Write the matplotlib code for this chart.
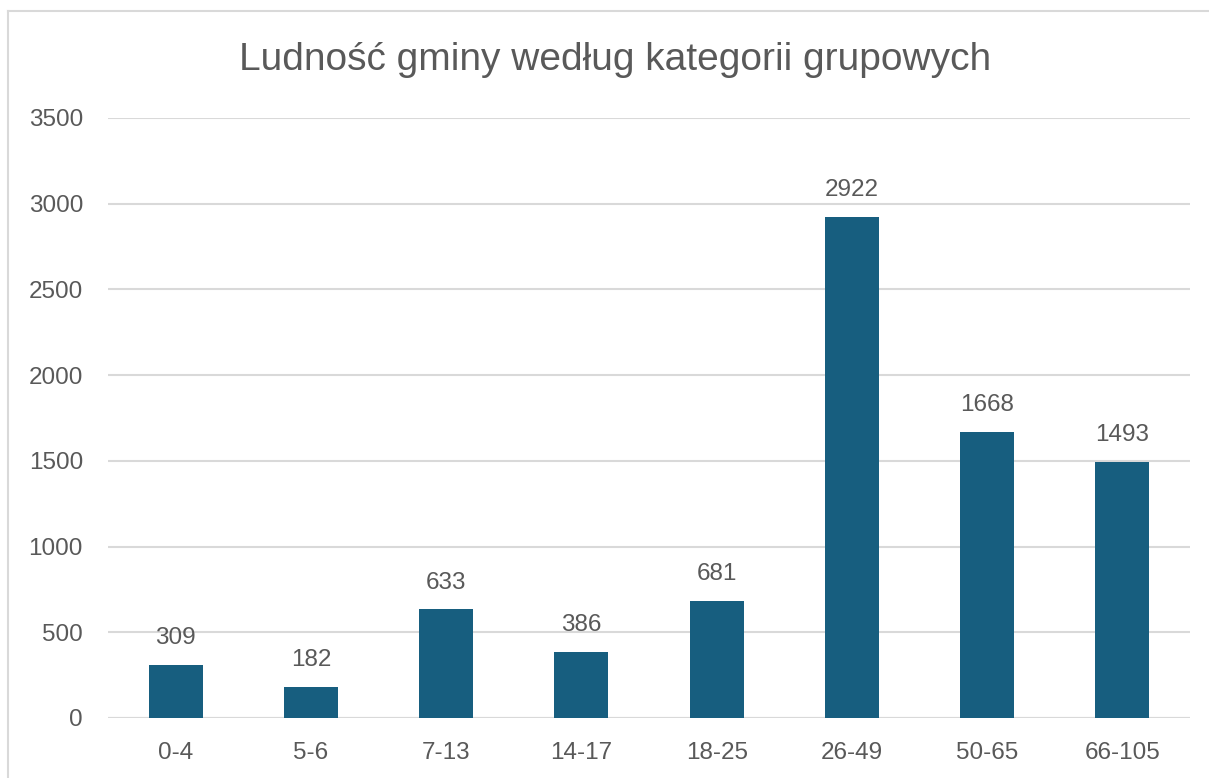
import matplotlib.pyplot as plt
from matplotlib.lines import Line2D

# Dane
kategorie = ['0-4', '5-6', '7-13', '14-17', '18-25', '26-49', '50-65', '66-105']
ludnosc = [309, 182, 633, 386, 681, 2922, 1668, 1493]
y_ticks = [0, 500, 1000, 1500, 2000, 2500, 3000, 3500]

plt.rcParams['font.family'] = ['Liberation Sans', 'DejaVu Sans']

kolor_slupka = '#175E7F'
kolor_tekstu = '#595959'
kolor_siatki = '#D9D9D9'

fig = plt.figure(figsize=(12.09, 7.78), dpi=100)
ax = fig.add_axes([108 / 1209, 1 - 718 / 778, (1190 - 108) / 1209, (718 - 118) / 778])

x = range(len(kategorie))
bars = ax.bar(x, ludnosc, width=0.4, color=kolor_slupka, zorder=3)

# Etykiety wartosci nad slupkami
for b, v in zip(bars, ludnosc):
    ax.annotate(str(v), (b.get_x() + b.get_width() / 2, v),
                xytext=(0, 15), textcoords='offset points',
                ha='center', va='baseline', fontsize=17.5, color=kolor_tekstu, zorder=4)

ax.set_xlim(-0.5, len(kategorie) - 0.5)
ax.set_ylim(0, 3500)
ax.set_xticks(list(x))
ax.set_xticklabels(kategorie)
ax.set_yticks(y_ticks)

ax.tick_params(axis='both', length=0, labelsize=17.5, labelcolor=kolor_tekstu)
ax.tick_params(axis='y', pad=18)
ax.tick_params(axis='x', pad=17)

ax.grid(axis='y', color=kolor_siatki, linewidth=1.5, zorder=0)
for s in ax.spines.values():
    s.set_visible(False)
ax.axhline(0, color=kolor_siatki, linewidth=1.5, zorder=2)

fig.text(615 / 1209, 1 - 60 / 778, 'Ludność gminy według kategorii grupowych',
         ha='center', va='center', fontsize=28, color=kolor_tekstu)

# Ramka wykresu
fig.add_artist(Line2D([8 / 1209, 8 / 1209], [0, 1 - 11 / 778], transform=fig.transFigure,
                      color=kolor_siatki, linewidth=1.5))
fig.add_artist(Line2D([8 / 1209, 1], [1 - 11 / 778, 1 - 11 / 778], transform=fig.transFigure,
                      color=kolor_siatki, linewidth=1.5))

fig.savefig('out.png', dpi=100)
